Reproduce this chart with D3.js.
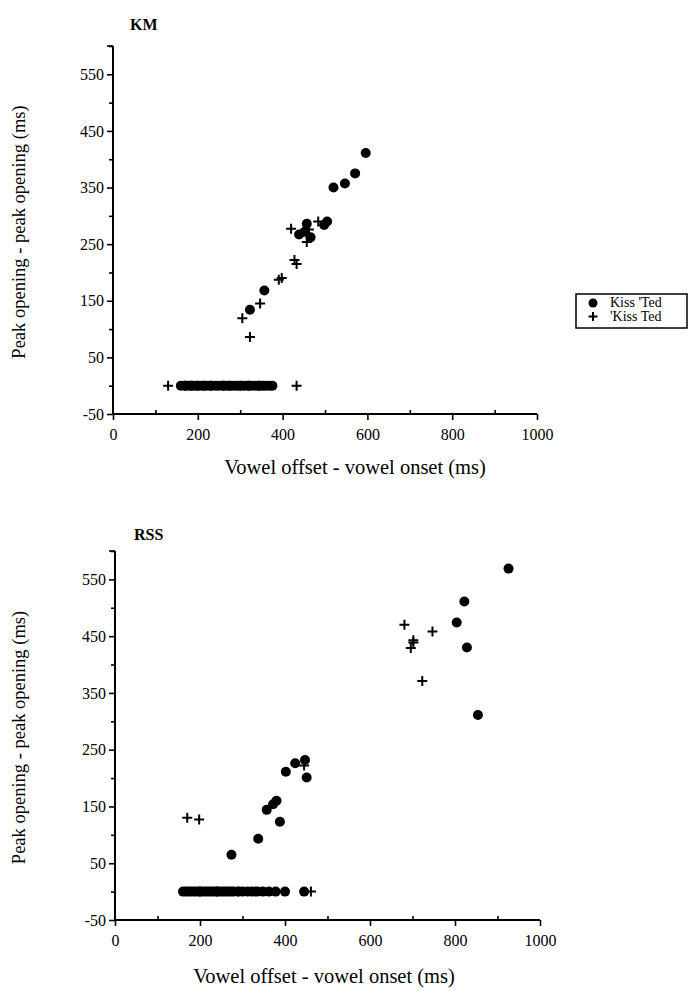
<!DOCTYPE html>
<html>
<head>
<meta charset="utf-8">
<script src="https://cdn.jsdelivr.net/npm/d3@7"></script>
<style>
  body { margin: 0; background: #fff; }
  svg text { font-family: "Liberation Serif", "Times New Roman", serif; fill: #000; }
</style>
</head>
<body>
<div id="chart"></div>
<script>
/* DATA */
// KM panel: [vowel duration (ms), peak-to-peak interval (ms)]
const kmKissTed = [
  [596, 411], [571, 375], [547, 357], [520, 350], [505, 290], [498, 284],
  [457, 286], [439, 267], [466, 262], [452, 272], [357, 168], [323, 134],
  [160, 0], [168, 0], [175, 0], [182, 0], [190, 0], [197, 0], [205, 0],
  [212, 0], [220, 0], [228, 0], [235, 0], [243, 0], [250, 0], [258, 0],
  [265, 0], [272, 0], [280, 0], [288, 0], [295, 0], [303, 0], [310, 0],
  [318, 0], [325, 0], [333, 0], [340, 0], [348, 0], [355, 0], [362, 0],
  [370, 0], [376, 0]
];
const kmKissTedStressed = [
  [420, 277], [484, 290], [457, 254], [462, 276], [428, 222], [433, 215],
  [391, 187], [398, 190], [347, 145], [305, 119], [323, 86],
  [130, 0], [170, 0], [185, 0], [200, 0], [215, 0], [230, 0], [260, 0],
  [275, 0], [300, 0], [320, 0], [345, 0], [433, 0]
];
// RSS panel
const rssKissTed = [
  [926, 569], [822, 511], [804, 474], [828, 430], [854, 311],
  [402, 211], [424, 226], [447, 232], [451, 201], [380, 160], [372, 154],
  [357, 144], [388, 123], [337, 93], [274, 65],
  [160, 0], [167, 0], [174, 0], [181, 0], [188, 0], [195, 0], [202, 0],
  [209, 0], [216, 0], [223, 0], [230, 0], [237, 0], [244, 0], [251, 0],
  [258, 0], [265, 0], [272, 0], [279, 0], [290, 0], [300, 0], [312, 0],
  [322, 0], [335, 0], [348, 0], [362, 0], [378, 0], [400, 0], [445, 0]
];
const rssKissTedStressed = [
  [681, 470], [747, 458], [702, 443], [702, 439], [696, 429], [723, 371],
  [445, 222], [170, 130], [198, 127],
  [200, 0], [240, 0], [290, 0], [330, 0], [461, 0]
];

const xMajor = [0, 200, 400, 600, 800, 1000];
const xMinor = [100, 300, 500, 700, 900];
const yMajor = [-50, 50, 150, 250, 350, 450, 550];
const yMinor = [0, 100, 200, 300, 400, 500, 600];
const legendLabels = ["Kiss 'Ted", "'Kiss Ted"];

const xTitle = "Vowel offset - vowel onset (ms)";
const yTitle = "Peak opening - peak opening (ms)";

/* SVG */
const width = 692, height = 992;
const svg = d3.select("#chart").append("svg")
  .attr("width", width)
  .attr("height", height)
  .style("display", "block");

const serif = "'Liberation Serif', 'Times New Roman', serif";

const panels = [
  { name: "KM", circles: kmKissTed, pluses: kmKissTedStressed,
    left: 113, right: 537, top: 46, bottom: 414, titleX: 130, titleY: 30, xTitleX: 355, xTitleDy: 60 },
  { name: "RSS", circles: rssKissTed, pluses: rssKissTedStressed,
    left: 115, right: 540, top: 551, bottom: 920, titleX: 134, titleY: 540, xTitleX: 324, xTitleDy: 63 }
];

panels.forEach(p => {
  const x = d3.scaleLinear().domain([0, 1000]).range([p.left, p.right]);
  const y = d3.scaleLinear().domain([-50, 600]).range([p.bottom, p.top]);
  const g = svg.append("g");

  // panel label
  g.append("text")
    .attr("x", p.titleX)
    .attr("y", p.titleY)
    .attr("font-family", serif)
    .style("font-size", "16px")
    .style("font-weight", "bold")
    .text(p.name);

  // y axis
  g.append("g")
    .attr("transform", `translate(${p.left},0)`)
    .call(d3.axisLeft(y).tickValues(yMajor).tickSize(6).tickPadding(3).tickFormat(d => String(d)))
    .call(ax => ax.select(".domain").remove());
  g.append("g")
    .attr("transform", `translate(${p.left},0)`)
    .call(d3.axisLeft(y).tickValues(yMinor).tickSize(4).tickFormat(""))
    .call(ax => ax.select(".domain").remove());

  // x axis
  g.append("g")
    .attr("transform", `translate(0,${p.bottom})`)
    .call(d3.axisBottom(x).tickValues(xMajor).tickSize(6).tickPadding(9).tickFormat(d => String(d)))
    .call(ax => ax.select(".domain").remove());
  g.append("g")
    .attr("transform", `translate(0,${p.bottom})`)
    .call(d3.axisTop(x).tickValues(xMinor).tickSize(4).tickFormat(""))
    .call(ax => ax.select(".domain").remove());

  g.selectAll("g").attr("font-family", serif).attr("font-size", 16);
  g.selectAll(".tick line").attr("stroke", "#000").attr("stroke-width", 1.6);
  g.selectAll(".tick text").attr("fill", "#000");

  // axis lines
  g.append("line")
    .attr("x1", p.left).attr("x2", p.left)
    .attr("y1", y(600)).attr("y2", y(-50))
    .attr("stroke", "#000").attr("stroke-width", 2);
  g.append("line")
    .attr("x1", p.left - 6).attr("x2", p.left)
    .attr("y1", y(600)).attr("y2", y(600))
    .attr("stroke", "#000").attr("stroke-width", 1.6);
  g.append("line")
    .attr("x1", x(0)).attr("x2", x(1000))
    .attr("y1", p.bottom).attr("y2", p.bottom)
    .attr("stroke", "#000").attr("stroke-width", 2);

  // axis titles
  g.append("text")
    .attr("x", p.xTitleX)
    .attr("y", p.bottom + p.xTitleDy)
    .attr("text-anchor", "middle")
    .attr("font-family", serif)
    .style("font-size", "20.5px")
    .text(xTitle);
  g.append("text")
    .attr("transform", `translate(25,${(p.top + p.bottom) / 2 + 2}) rotate(-90)`)
    .attr("text-anchor", "middle")
    .attr("font-family", serif)
    .style("font-size", "18.5px")
    .text(yTitle);

  // marks
  g.selectAll(".dot")
    .data(p.circles)
    .join("circle")
    .attr("class", "dot")
    .attr("cx", d => x(d[0]))
    .attr("cy", d => y(d[1]))
    .attr("r", 5)
    .attr("fill", "#000");

  g.selectAll(".plus")
    .data(p.pluses)
    .join("path")
    .attr("class", "plus")
    .attr("d", d => `M${x(d[0]) - 5},${y(d[1])}h10M${x(d[0])},${y(d[1]) - 5}v10`)
    .attr("stroke", "#000")
    .attr("stroke-width", 2)
    .attr("fill", "none");
});

/* LEGEND */
const legend = svg.append("g").attr("transform", "translate(576,294)");
legend.append("rect")
  .attr("width", 111).attr("height", 34)
  .attr("fill", "#fff").attr("stroke", "#000").attr("stroke-width", 1.5);
legend.append("circle")
  .attr("cx", 17).attr("cy", 9).attr("r", 4.5).attr("fill", "#000");
legend.append("path")
  .attr("d", "M12.5,22.5h9M17,18v9")
  .attr("stroke", "#000").attr("stroke-width", 2);
legend.selectAll(".lab")
  .data(legendLabels)
  .join("text")
  .attr("class", "lab")
  .attr("x", 34)
  .attr("y", (d, i) => 13 + i * 14)
  .attr("font-family", serif)
  .style("font-size", "14px")
  .text(d => d);
</script>
</body>
</html>
